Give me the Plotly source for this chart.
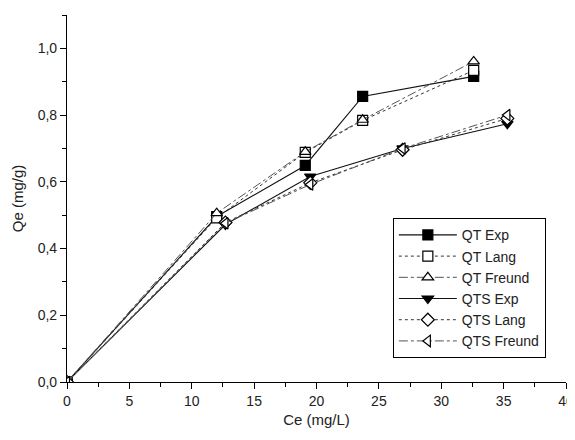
import plotly.graph_objects as go

qt_ce = [0, 12.0, 19.1, 23.7, 32.6]
qt_exp = [0, 0.496, 0.649, 0.856, 0.916]
qt_lang = [0, 0.492, 0.688, 0.784, 0.934]
qt_freund = [0, 0.506, 0.690, 0.786, 0.961]

qts_ce = [0, 12.7, 19.5, 26.9, 35.3]
qts_exp = [0, 0.472, 0.616, 0.700, 0.774]
qts_lang = [0, 0.478, 0.597, 0.696, 0.790]
qts_freund = [0, 0.476, 0.592, 0.700, 0.800]

series = [
    ("QT Exp", qt_ce, qt_exp, "square", "black", "solid", "#111111", 1.1),
    ("QT Lang", qt_ce, qt_lang, "square", "white", "dot", "#333333", 1.0),
    ("QT Freund", qt_ce, qt_freund, "triangle-up", "white", "dashdot", "#555555", 1.0),
    ("QTS Exp", qts_ce, qts_exp, "triangle-down", "black", "solid", "#111111", 1.1),
    ("QTS Lang", qts_ce, qts_lang, "diamond", "white", "dot", "#333333", 1.0),
    ("QTS Freund", qts_ce, qts_freund, "triangle-left", "white", "dashdot", "#555555", 1.0),
]

fig = go.Figure()
for name, xs, ys, sym, fill, dash, lc, lw in series:
    fig.add_trace(go.Scatter(
        x=xs, y=ys, name=name, mode="lines+markers",
        line=dict(color=lc, width=lw, dash=dash),
        marker=dict(symbol=sym, size=10, color=fill,
                    line=dict(color="black", width=1.2)),
    ))

fig.update_layout(
    width=567, height=420,
    margin=dict(l=59, r=9, t=7, b=46),
    plot_bgcolor="white", paper_bgcolor="white",
    separators=",.",
    font=dict(family="Liberation Sans, Arial, sans-serif", size=14, color="#222222"),
    showlegend=True,
    legend=dict(
        x=0.653, y=0.446, xanchor="left", yanchor="top",
        bordercolor="black", borderwidth=1, bgcolor="white",
        font=dict(size=14, color="#222222"),
        tracegroupgap=0, itemwidth=58,
    ),
    xaxis=dict(
        range=[0, 40], tickvals=[0, 5, 10, 15, 20, 25, 30, 35, 40],
        showgrid=False, zeroline=False, showline=True, linecolor="black", linewidth=1.2,
        ticks="outside", ticklen=6, tickcolor="black", tickwidth=1.2,
        ticklabeloverflow="allow",
        minor=dict(tickvals=[2.5, 7.5, 12.5, 17.5, 22.5, 27.5, 32.5, 37.5],
                   ticks="outside", ticklen=4, tickcolor="black", tickwidth=1.2),
        automargin=False,
        title=dict(text="Ce (mg/L)", standoff=12, font=dict(size=15)),
    ),
    yaxis=dict(
        range=[0, 1.1], tickvals=[0, 0.2, 0.4, 0.6, 0.8, 1.0], tickformat=".1f",
        showgrid=False, zeroline=False, showline=True, linecolor="black", linewidth=1.2,
        ticks="outside", ticklen=6, tickcolor="black", tickwidth=1.2,
        minor=dict(tickvals=[0.1, 0.3, 0.5, 0.7, 0.9, 1.1],
                   ticks="outside", ticklen=4, tickcolor="black", tickwidth=1.2),
        automargin=False,
        title=dict(text="Qe (mg/g)", standoff=10, font=dict(size=15)),
    ),
)

fig.write_html("out.html")
